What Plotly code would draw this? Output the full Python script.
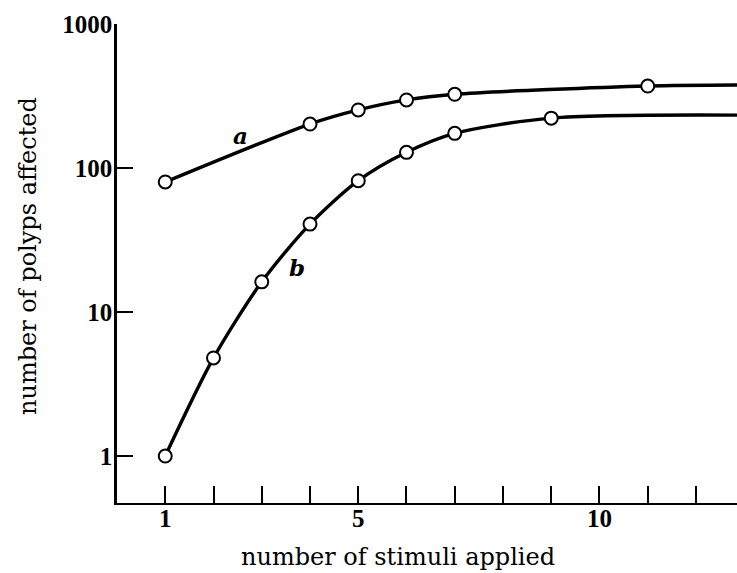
import plotly.graph_objects as go

# Data
a_x = [1, 4, 5, 6, 7, 11]
a_y = [80, 202, 253, 297, 325, 371]
a_tail_x = [12.85]
a_tail_y = [377]

b_x = [1, 2, 3, 4, 5, 6, 7, 9]
b_y = [1.0, 4.8, 16.2, 40.8, 81.6, 128.5, 174, 222]
b_tail_x = [12.85]
b_tail_y = [233]

x_ticks = list(range(1, 13))
x_tick_text = ["1", "", "", "", "5", "", "", "", "", "10", "", ""]
y_ticks = [1, 10, 100, 1000]
y_tick_text = ["1", "10", "100", "1000"]

SERIF = "DejaVu Serif"
TICKFONT = dict(family="Liberation Serif", size=25, color="black", weight="bold")

L, R, T, B = 117, 0, 24, 70
W, H = 737, 573
PW, PH = W - L - R, H - T - B

fig = go.Figure()
for xs, ys, tx, ty in [(a_x, a_y, a_tail_x, a_tail_y), (b_x, b_y, b_tail_x, b_tail_y)]:
    fig.add_trace(go.Scatter(
        x=xs + tx, y=ys + ty, mode="lines",
        line=dict(color="black", width=3.4, shape="spline", smoothing=0.8),
        showlegend=False, hoverinfo="skip"))
    fig.add_trace(go.Scatter(
        x=xs, y=ys, mode="markers",
        marker=dict(symbol="circle", size=13, color="white",
                    line=dict(color="black", width=2)),
        showlegend=False, cliponaxis=False))

fig.add_annotation(x=2.56, y=2.229, yref="y", xref="x", text="<b><i>a</i></b>",
                   showarrow=False, font=dict(family=SERIF, size=23, color="black"))
fig.add_annotation(x=3.74, y=1.3125, yref="y", xref="x", text="<b><i>b</i></b>",
                   showarrow=False, font=dict(family=SERIF, size=23, color="black"))

# axis titles placed as annotations at pixel-derived positions
fig.add_annotation(x=(398 - L) / PW, y=-(557 - (H - B)) / PH, xref="paper", yref="paper",
                   text="number of stimuli applied", showarrow=False,
                   xanchor="center", yanchor="middle",
                   font=dict(family=SERIF, size=24, color="black"))
fig.add_annotation(x=(28 - L) / PW, y=((H - B) - 256) / PH, xref="paper", yref="paper",
                   text="number of polyps affected", showarrow=False, textangle=-90,
                   xanchor="center", yanchor="middle",
                   font=dict(family=SERIF, size=24, color="black"))

fig.update_layout(
    width=W, height=H,
    margin=dict(l=L, r=R, t=T, b=B),
    paper_bgcolor="white", plot_bgcolor="white",
    font=dict(family=SERIF, color="black"),
    xaxis=dict(range=[0, 12.85], tickmode="array", tickvals=x_ticks, ticktext=x_tick_text,
               ticks="inside", ticklen=17, tickwidth=1.5, tickcolor="black",
               showline=True, linecolor="black", linewidth=2, showgrid=False, zeroline=False,
               tickfont=TICKFONT, ticklabelstandoff=-8),
    yaxis=dict(type="log", range=[-0.326, 3], tickmode="array", tickvals=y_ticks, ticktext=y_tick_text,
               ticks="inside", ticklen=16, tickwidth=1.5, tickcolor="black",
               showline=True, linecolor="black", linewidth=2.5, showgrid=False, zeroline=False,
               tickfont=TICKFONT, ticklabelstandoff=-3),
)

fig.write_html("out.html")
